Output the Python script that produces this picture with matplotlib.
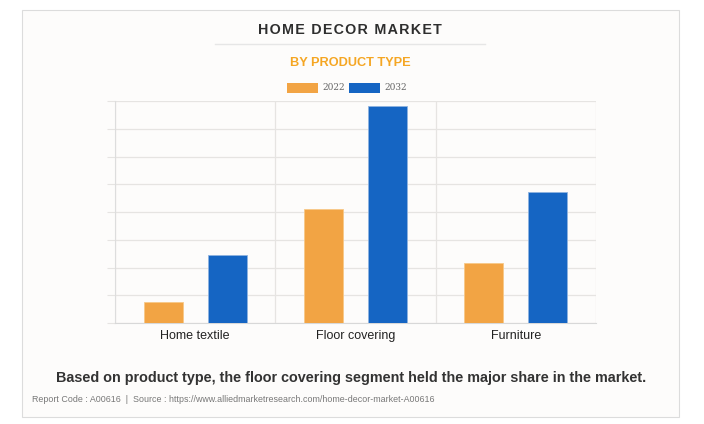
import numpy as np
import matplotlib.pyplot as plt
from matplotlib.patches import Rectangle
from matplotlib.lines import Line2D

categories = ['Home textile', 'Floor covering', 'Furniture']
values_2022 = [0.76, 4.1, 2.17]
values_2032 = [2.45, 7.83, 4.73]
series_names = ['2022', '2032']

ORANGE = '#f2a444'
BLUE = '#1565c3'

plt.rcParams['font.family'] = ['Liberation Sans', 'DejaVu Sans']

fig = plt.figure(figsize=(7.04, 4.24), dpi=100)
fig.patch.set_facecolor('white')

# Card behind everything
card = Rectangle((22 / 704, 1 - 417 / 424), (679 - 22) / 704, (417 - 10) / 424,
                 transform=fig.transFigure, facecolor='#fdfcfb', edgecolor='#dcdcdc',
                 linewidth=0.8, zorder=-10)
fig.patches.append(card)

ax = fig.add_axes([115 / 704, 1 - 323 / 424, (596 - 115) / 704, (323 - 101) / 424])
ax.set_zorder(2)
ax.set_facecolor('#fdfcfb')

x = np.arange(len(categories))
w = 0.244
ax.bar(x - 0.2, values_2022, width=w, color=ORANGE, edgecolor='#f7c888', linewidth=0.6, zorder=3)
ax.bar(x + 0.2, values_2032, width=w, color=BLUE, edgecolor='#8fb3e0', linewidth=0.6, zorder=3)

ax.set_xlim(-0.5, 2.5)
ax.set_ylim(0, 8)
ax.set_yticks(np.arange(0, 9, 1))
ax.yaxis.grid(True, color='#e6e4e2', linewidth=0.9, zorder=0)
ax.tick_params(axis='y', length=6, color='#e6e4e2', labelleft=False)
for xc in [-0.5, 0.5, 1.5, 2.5]:
    ax.axvline(xc, color='#e6e4e2', linewidth=0.9, zorder=0)
ax.set_xticks(x)
ax.set_xticklabels(categories, fontsize=9, color='#222222')
ax.tick_params(axis='x', length=0, pad=5)
for s in ['top', 'right']:
    ax.spines[s].set_visible(False)
ax.spines['left'].set_color('#dddddd')
ax.spines['bottom'].set_color('#d8d8d8')

# Titles
title = '\u200a'.join('HOME DECOR MARKET')
fig.text(350 / 704, 1 - 30 / 424, title, ha='center', va='center',
         fontsize=10.3, fontweight='bold', color='#2e2e2e')
fig.add_artist(Line2D([215 / 704, 485 / 704], [1 - 44 / 424, 1 - 44 / 424],
                      transform=fig.transFigure, color='#e6e6e6', linewidth=1))
fig.text(350 / 704, 1 - 63 / 424, 'BY PRODUCT TYPE', ha='center', va='center',
         fontsize=9.2, fontweight='bold', color='#f5a623')

# Legend
for px, col, name in [(287, ORANGE, series_names[0]), (349, BLUE, series_names[1])]:
    fig.patches.append(Rectangle((px / 704, 1 - 93 / 424), 31 / 704, 10 / 424,
                                 transform=fig.transFigure, facecolor=col,
                                 edgecolor='none'))
    fig.text((px + 35) / 704, 1 - 88 / 424, name, ha='left', va='center',
             fontsize=6.5, color='#666666', family='DejaVu Serif')

fig.text(351 / 704, 1 - 378 / 424,
         'Based on product type, the floor covering segment held the major share in the market.',
         ha='center', va='center', fontsize=10.4, fontweight='bold', color='#333333')
fig.text(32 / 704, 1 - 400 / 424,
         'Report Code : A00616  |  Source : https://www.alliedmarketresearch.com/home-decor-market-A00616',
         ha='left', va='center', fontsize=6.4, color='#777777')

fig.savefig('out.png', dpi=100, facecolor=fig.get_facecolor())
